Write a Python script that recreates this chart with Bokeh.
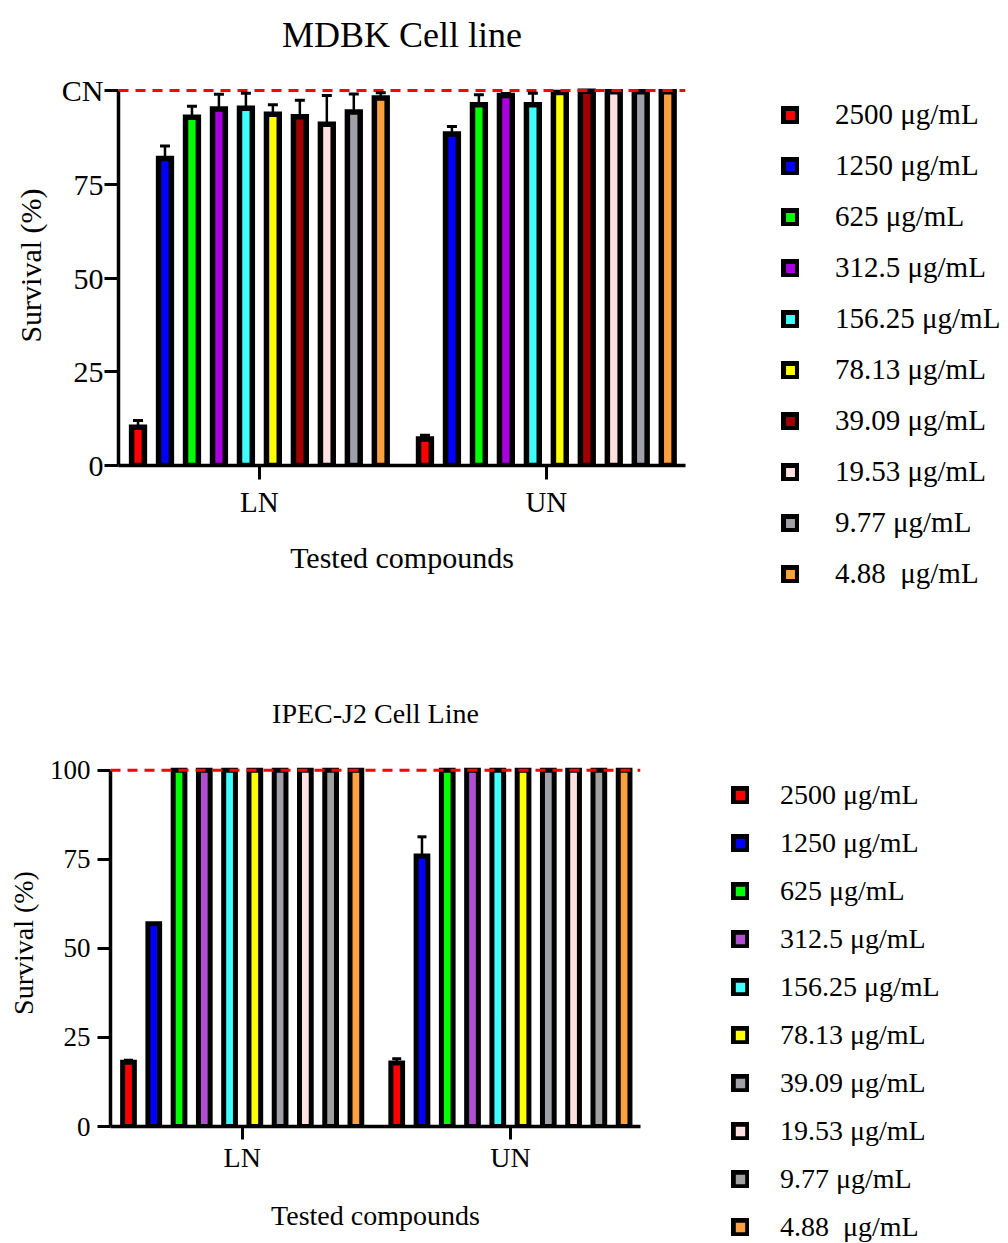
from bokeh.plotting import figure
from bokeh.models import (ColumnDataSource, Range1d, FixedTicker, Span, Whisker,
                          TeeHead, Legend, LegendItem)
from bokeh.embed import file_html
from bokeh.resources import INLINE

# ---------------- data ----------------
compounds = ["LN", "UN"]
concentrations = ["2500 μg/mL", "1250 μg/mL", "625 μg/mL", "312.5 μg/mL",
                  "156.25 μg/mL", "78.13 μg/mL", "39.09 μg/mL", "19.53 μg/mL",
                  "9.77 μg/mL", "4.88  μg/mL"]

# MDBK cell line (survival %, and SD)
mdbk_ln = [10.2, 81.9, 92.9, 95.1, 95.3, 93.7, 93.0, 91.0, 94.3, 98.0]
mdbk_ln_err = [1.8, 3.3, 2.9, 3.9, 4.0, 2.5, 4.4, 7.7, 4.8, 1.4]
mdbk_un = [7.1, 88.4, 96.2, 98.7, 96.2, 99.5, 99.8, 99.7, 99.7, 99.7]
mdbk_un_err = [1.0, 2.0, 2.7, 0.5, 3.1, 0.0, 0.0, 0.0, 0.0, 0.0]
mdbk_colors = ["#FF0000", "#0000FF", "#00FF00", "#AA00E0", "#40FFFF",
               "#FFFF00", "#A00000", "#FFE0E0", "#A0A0A8", "#FFA040"]

# IPEC-J2 cell line
ipec_ln = [18.0, 56.9, 100, 100, 100, 100, 100, 100, 100, 100]
ipec_ln_err = [0.6, 0.0, 0, 0, 0, 0, 0, 0, 0, 0]
ipec_un = [17.8, 75.9, 100, 100, 100, 100, 100, 100, 100, 100]
ipec_un_err = [1.2, 5.4, 0, 0, 0, 0, 0, 0, 0, 0]
ipec_colors = ["#FF0000", "#0000FF", "#00FF00", "#B050D0", "#40FFFF",
               "#FFFF00", "#A0A0A8", "#FFE0E0", "#A0A0A0", "#FFA040"]

y_ticks = [0, 25, 50, 75, 100]
FONT = "Liberation Serif"


def make_chart(title, ln, ln_err, un, un_err, colors, cfg, top_label):
    p = figure(frame_width=cfg["fw"], height=cfg["height"], output_backend="svg",
               toolbar_location=None,
               x_range=Range1d(0.509, 2.485), y_range=Range1d(0, cfg["y_end"]),
               min_border_left=cfg["ml"], min_border_right=cfg["mr"],
               min_border_top=cfg["mt"], min_border_bottom=cfg["mb"])
    p.outline_line_color = None
    p.xgrid.visible = False
    p.ygrid.visible = False
    p.background_fill_color = "white"

    p.title.text = title
    p.title.align = "center"
    p.title.text_font = FONT
    p.title.text_font_style = "normal"
    p.title.text_color = "black"
    p.title.text_font_size = cfg["title_size"]
    p.title.standoff = cfg["title_standoff"]

    spacing = cfg["spacing"]
    width = cfg["bar_w"]
    group_pos = [1, 2]
    items = []
    for i, conc in enumerate(concentrations):
        off = (i - 4.5) * spacing
        xs = [g + off for g in group_pos]
        tops = [ln[i], un[i]]
        errs = [ln_err[i], un_err[i]]
        src = ColumnDataSource(dict(x=xs, top=tops))
        r = p.vbar(x="x", top="top", bottom=0, width=width, source=src,
                   fill_color=colors[i], line_color="black",
                   line_width=cfg["bar_lw"], line_join="miter")
        items.append(LegendItem(label=conc, renderers=[r]))
        wx = [x for x, e in zip(xs, errs) if e > 0]
        wl = [t for t, e in zip(tops, errs) if e > 0]
        wu = [t + e for t, e in zip(tops, errs) if e > 0]
        if wx:
            wsrc = ColumnDataSource(dict(base=wx, lower=wl, upper=wu))
            w = Whisker(base="base", lower="lower", upper="upper", source=wsrc,
                        line_color="black", line_width=2.5,
                        upper_head=TeeHead(size=cfg["cap"], line_width=3, line_color="black"),
                        lower_head=None, level="overlay")
            p.add_layout(w)

    span = Span(location=100, dimension="width", line_color="#FF0000",
                line_dash="10 7", line_width=3)
    p.add_layout(span)

    # y axis
    yax = p.yaxis[0]
    yax.ticker = FixedTicker(ticks=y_ticks)
    yax.bounds = (0, 100)
    if top_label:
        yax.major_label_overrides = {100: top_label}
    yax.axis_label = "Survival (%)"
    # x axis
    xax = p.xaxis[0]
    xax.ticker = FixedTicker(ticks=group_pos)
    xax.major_label_overrides = {1: compounds[0], 2: compounds[1]}
    xax.axis_label = "Tested compounds"

    for ax in (xax, yax):
        ax.axis_line_width = 3.5
        ax.axis_line_color = "black"
        ax.major_tick_line_width = 3
        ax.major_tick_line_color = "black"
        ax.major_tick_out = cfg["tick"]
        ax.major_tick_in = 0
        ax.minor_tick_line_color = None
        ax.major_label_text_font = FONT
        ax.major_label_text_color = "black"
        ax.axis_label_text_font = FONT
        ax.axis_label_text_font_style = "normal"
        ax.axis_label_text_color = "black"
        ax.axis_label_text_font_size = cfg["label_size"]
    yax.major_label_text_font_size = cfg["ytick_size"]
    xax.major_label_text_font_size = cfg["xtick_size"]
    yax.major_label_standoff = cfg["ystand"]
    xax.major_label_standoff = cfg["xstand"]
    yax.axis_label_standoff = cfg["ylab_stand"]
    xax.axis_label_standoff = cfg["xlab_stand"]

    legend = Legend(items=items, location=cfg["leg_loc"],
                    glyph_width=18, glyph_height=18,
                    label_text_font=FONT, label_text_font_size=cfg["leg_size"],
                    label_text_color="black",
                    label_standoff=cfg["leg_stand"], spacing=cfg["leg_space"],
                    label_height=14, padding=0, margin=0,
                    border_line_color=None, background_fill_alpha=0)
    p.add_layout(legend, "right")
    return p


cfg_top = dict(height=620, fw=567, ml=118, mr=323, mt=65, mb=155, y_end=106.67,
               title_size="36px", title_standoff=22,
               spacing=0.094, bar_w=0.0446, bar_lw=5.5, cap=10,
               tick=14, label_size="30px", ytick_size="30px", xtick_size="29px",
               ystand=1, xstand=6, ylab_stand=12, xlab_stand=20,
               leg_loc=(96, -125), leg_size="29px", leg_stand=36, leg_space=18)

cfg_bot = dict(height=623, fw=530, ml=110, mr=368, mt=139, mb=117, y_end=103,
               title_size="28px", title_standoff=62,
               spacing=0.0942, bar_w=0.0437, bar_lw=5, cap=9,
               tick=13, label_size="28px", ytick_size="27px", xtick_size="28px",
               ystand=7, xstand=2, ylab_stand=8, xlab_stand=24,
               leg_loc=(91, -117), leg_size="28px", leg_stand=31, leg_space=16)

p1 = make_chart("MDBK Cell line", mdbk_ln, mdbk_ln_err, mdbk_un, mdbk_un_err,
                mdbk_colors, cfg_top, "CN")
p2 = make_chart("IPEC-J2 Cell Line", ipec_ln, ipec_ln_err, ipec_un, ipec_un_err,
                ipec_colors, cfg_bot, None)

open("out.html", "w").write(file_html([p1, p2], INLINE))
